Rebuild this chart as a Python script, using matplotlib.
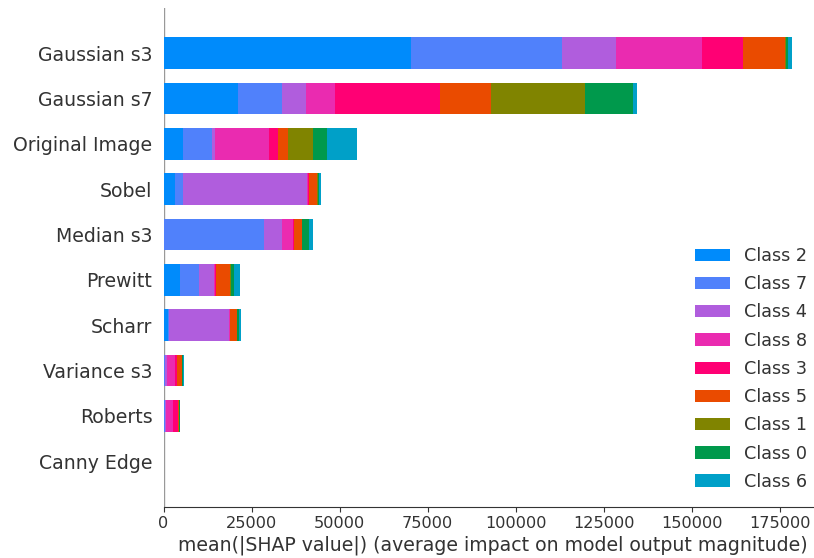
import matplotlib
matplotlib.use("Agg")
import matplotlib.pyplot as plt
import numpy as np

features = ["Gaussian s3", "Gaussian s7", "Original Image", "Sobel", "Median s3",
            "Prewitt", "Scharr", "Variance s3", "Roberts", "Canny Edge"]

class_names = ["Class 2", "Class 7", "Class 4", "Class 8", "Class 3",
               "Class 5", "Class 1", "Class 0", "Class 6"]

class_colors = ["#008bfb", "#5081fb", "#b05ddd", "#ea2bb0", "#ff0074",
                "#ea4b00", "#808400", "#00994c", "#00a0c8"]

# values per class, in the same order as features
class_2 = [70200, 21200, 5500, 3300, 200, 4700, 1400, 100, 100, 0]
class_7 = [43000, 12500, 8200, 2300, 28300, 5400, 200, 200, 300, 0]
class_4 = [15200, 6800, 900, 35200, 5200, 4200, 16900, 600, 300, 0]
class_8 = [24500, 8100, 15400, 300, 3200, 300, 300, 2400, 1900, 0]
class_3 = [11800, 29900, 2500, 200, 200, 300, 200, 400, 1500, 0]
class_5 = [11800, 14500, 2900, 2400, 2100, 4000, 1900, 1600, 200, 0]
class_1 = [400, 26800, 7000, 100, 100, 200, 100, 50, 50, 0]
class_0 = [400, 13500, 4100, 500, 2100, 900, 500, 100, 300, 0]
class_6 = [1100, 1100, 8500, 300, 1000, 1700, 500, 300, 50, 0]

series = [class_2, class_7, class_4, class_8, class_3, class_5, class_1, class_0, class_6]

axis_color = "#333333"

fig = plt.figure(figsize=(8.14, 5.58), dpi=100)
ax = fig.add_axes([163.5 / 814, 1 - 506.7 / 558, (823 - 163.5) / 814, (506.7 - 7.7) / 558])

n = len(features)
y_pos = np.arange(n)[::-1]  # first feature at top
left = np.zeros(n)
for vals, name, col in zip(series, class_names, class_colors):
    v = np.array(vals, dtype=float)
    ax.barh(y_pos, v, 0.7, left=left, align="center", color=col, label=name)
    left += v

ax.set_yticks(y_pos)
ax.set_yticklabels(features, fontsize=13.6)
ax.set_ylim(-1, n)
ax.set_xlim(0, left.max() * 1.05)
ax.set_xticks([0, 25000, 50000, 75000, 100000, 125000, 150000, 175000])
ax.axvline(0, color="#999999", zorder=-1, lw=1)

ax.spines["right"].set_visible(False)
ax.spines["top"].set_visible(False)
ax.spines["left"].set_visible(False)
ax.spines["bottom"].set_color(axis_color)
ax.xaxis.set_ticks_position("bottom")
ax.yaxis.set_ticks_position("none")
ax.tick_params(color=axis_color, labelcolor=axis_color)
ax.tick_params("x", labelsize=11.6)
ax.tick_params("y", pad=4.5)
ax.set_xlabel("mean(|SHAP value|) (average impact on model output magnitude)",
              fontsize=13.6, color=axis_color, labelpad=3)

leg = ax.legend(frameon=False, fontsize=12.7, loc="lower right",
                bbox_to_anchor=(1.0, 0.0), labelcolor=axis_color,
                labelspacing=0.58)

fig.savefig("out.png", dpi=100)
